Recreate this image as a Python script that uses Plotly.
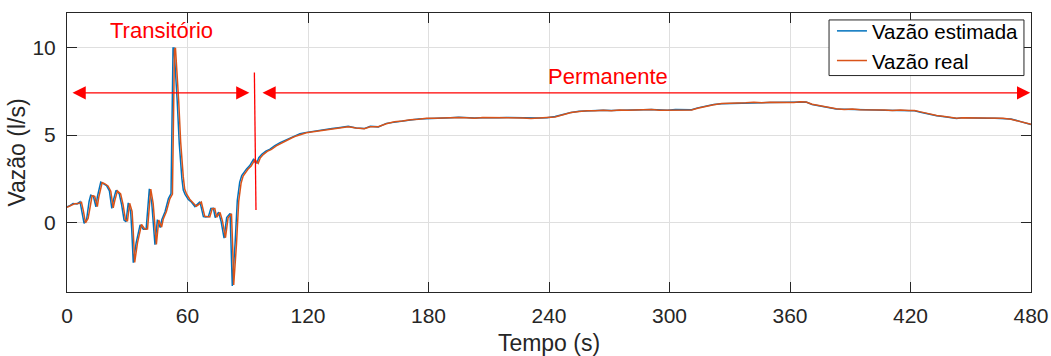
import plotly.graph_objects as go

# ---------------- data ----------------
t_est_tr = [0, 1.5, 3, 5, 6.5, 7.5, 8.5, 9.8, 11, 11.8, 13.1, 14.4, 15.1, 16.8, 18, 19.7, 21.1, 22.3, 23.1, 24.4,
            26, 27.2, 28.4, 29.4, 30.5, 31.7, 32.2, 33, 34.4, 36.4, 38, 39.4, 41, 42.2, 43.8, 45, 46.4, 47.2, 48.8, 50.5,
            51.8, 52.3, 52.8, 53.3, 54, 54.9, 55.9, 56.5, 57.2, 57.9, 58.8, 60.4, 62, 63.7, 65, 66.2, 67.9, 69, 70.4, 71.6,
            72.9, 73.8, 75.5, 76.7, 78.2, 79.5, 81.2, 81.8, 82.3, 83.7, 84.8, 86, 87, 89.4, 91, 92.8, 93.6, 94.5, 95.5, 97,
            99, 101.1, 103.5, 106.1, 108.5, 111.1, 113.5, 116, 118.5, 121]
v_est_tr = [0.88, 0.95, 1.08, 1.05, 1.17, 0.6, -0.06, 0.2, 1.2, 1.55, 1.5, 0.88, 1.45, 2.3, 2.2, 2.1, 1.8, 0.8, 1.26, 1.83,
            1.64, 1.0, 0.13, 0.04, 1.11, 0.6, -0.35, -2.32, -1.2, -0.15, -0.4, -0.4, 1.92, 1.1, -1.29, 0.15, -0.3, 0.15, 0.6, 1.36,
            1.64, 5.5, 10.0, 10.0, 8.8, 6.9, 4.5, 3.4, 2.5, 1.85, 1.6, 1.3, 1.15, 0.9, 1.05, 1.17, 0.32, 0.3, 0.32, 0.79,
            0.8, 0.27, 0.58, 0.06, -0.91, 0.27, 0.51, -1.5, -3.65, -1.2, 1.26, 2.3, 2.68, 3.06, 3.25, 3.6, 3.45, 3.4, 3.7, 3.9,
            4.08, 4.19, 4.4, 4.57, 4.7, 4.85, 4.96, 5.08, 5.14, 5.19]

t_real_tr = [0, 2.2, 3.7, 5.7, 7.2, 8.2, 9.2, 10.5, 11.7, 12.5, 13.8, 15.1, 15.8, 17.5, 18.7, 20.4, 21.8, 23.0, 23.8, 25.1,
             26.7, 27.9, 29.1, 30.1, 31.2, 32.4, 32.9, 33.7, 35.1, 37.1, 38.7, 40.1, 41.7, 42.9, 44.5, 45.7, 47.1, 47.9, 49.5, 51.2,
             52.5, 53.0, 53.5, 54.0, 54.7, 55.6, 56.6, 57.2, 57.9, 58.6, 59.5, 61.1, 62.7, 64.4, 65.7, 66.9, 68.6, 69.7, 71.1, 72.3,
             73.6, 74.5, 76.2, 77.4, 78.9, 80.2, 81.9, 82.5, 83.0, 84.4, 85.5, 86.7, 87.7, 90.1, 91.7, 93.5, 94.3, 95.2, 96.2, 97.7,
             99.7, 101.8, 104.2, 106.8, 109.2, 111.8, 114.2, 116.7, 119.2, 121.7]
v_real_tr = [0.85, 0.97, 1.06, 1.07, 1.15, 0.62, -0.04, 0.22, 1.18, 1.52, 1.48, 0.9, 1.43, 2.28, 2.22, 2.08, 1.78, 0.82, 1.24, 1.8,
             1.62, 1.02, 0.15, 0.06, 1.09, 0.62, -0.33, -2.3, -1.18, -0.13, -0.38, -0.38, 1.9, 1.08, -1.27, 0.13, -0.28, 0.17, 0.62, 1.34,
             1.62, 5.3, 9.9, 10.0, 8.9, 7.0, 4.6, 3.5, 2.6, 1.9, 1.62, 1.32, 1.13, 0.92, 1.03, 1.15, 0.34, 0.32, 0.3, 0.77,
             0.78, 0.29, 0.56, 0.08, -0.89, 0.25, 0.49, -1.4, -3.6, -1.25, 1.2, 2.25, 2.65, 3.04, 3.23, 3.58, 3.47, 3.38, 3.68, 3.88,
             4.06, 4.18, 4.38, 4.55, 4.68, 4.83, 4.95, 5.06, 5.13, 5.18]

t_steady = [124, 128, 132, 136, 140, 144, 148, 151, 155, 159, 163, 167, 171, 175, 179, 183, 187, 191, 195, 199,
            203, 207, 211, 215, 219, 223, 227, 231, 235, 239, 243, 247, 251, 255, 259, 263, 267, 271, 275, 279,
            283, 287, 291, 295, 299, 303, 307, 311, 314, 318, 322, 326, 330, 334, 338, 342, 346, 350, 354, 358,
            362, 365, 368, 371, 375, 379, 383, 387, 391, 395, 399, 403, 407, 411, 415, 419, 422, 425, 429, 433,
            437, 441, 443, 446, 450, 454, 458, 462, 466, 470, 474, 477, 480]
v_est_steady = [5.24, 5.30, 5.38, 5.44, 5.50, 5.40, 5.37, 5.50, 5.47, 5.67,
                5.75, 5.82, 5.87, 5.92, 5.95, 5.97, 5.98, 6.00, 6.02, 5.99,
                5.98, 6.00, 6.02, 6.00, 6.01, 6.00, 5.97, 5.96, 5.98, 6.00,
                6.06, 6.18, 6.30, 6.36, 6.39, 6.40, 6.42, 6.41, 6.43, 6.44,
                6.43, 6.45, 6.46, 6.43, 6.42, 6.46, 6.45, 6.45, 6.56, 6.66,
                6.75, 6.80, 6.82, 6.83, 6.86, 6.87, 6.86, 6.87, 6.88, 6.87,
                6.88, 6.92, 6.89, 6.75, 6.66, 6.58, 6.50, 6.48, 6.48, 6.46,
                6.45, 6.44, 6.43, 6.42, 6.43, 6.42, 6.40, 6.31, 6.20, 6.11,
                6.05, 5.98, 5.95, 6.00, 5.98, 5.98, 5.97, 5.97, 5.96, 5.92,
                5.80, 5.70, 5.60]
v_real_steady = [5.22, 5.31, 5.36, 5.45, 5.48, 5.41, 5.36, 5.48, 5.48, 5.65,
                 5.76, 5.80, 5.88, 5.91, 5.96, 5.96, 5.99, 5.99, 6.01, 6.00,
                 5.97, 6.01, 6.01, 5.99, 6.02, 5.99, 5.98, 5.95, 5.99, 5.99,
                 6.04, 6.16, 6.29, 6.35, 6.40, 6.39, 6.43, 6.40, 6.44, 6.43,
                 6.44, 6.44, 6.47, 6.42, 6.43, 6.45, 6.46, 6.44, 6.54, 6.65,
                 6.74, 6.81, 6.81, 6.84, 6.85, 6.88, 6.85, 6.88, 6.87, 6.88,
                 6.87, 6.91, 6.90, 6.77, 6.67, 6.59, 6.51, 6.47, 6.49, 6.45,
                 6.46, 6.43, 6.44, 6.41, 6.44, 6.41, 6.41, 6.33, 6.21, 6.12,
                 6.06, 5.99, 5.96, 5.99, 5.99, 5.97, 5.98, 5.96, 5.97, 5.91,
                 5.81, 5.71, 5.62]

x_ticks = [0, 60, 120, 180, 240, 300, 360, 420, 480]
y_ticks = [0, 5, 10]
series_names = ["Vazão estimada", "Vazão real"]
label_transient = "Transitório"
label_steady = "Permanente"

# ---------------- figure ----------------
FONT = "Liberation Sans, Arial, Helvetica, sans-serif"
AXC = "#262626"
RED = "#ff0000"

fig = go.Figure()
fig.add_trace(go.Scatter(x=t_est_tr + t_steady, y=v_est_tr + v_est_steady, mode="lines",
                         name=series_names[0], line=dict(color="#0072BD", width=1.5)))
fig.add_trace(go.Scatter(x=t_real_tr + t_steady, y=v_real_tr + v_real_steady, mode="lines",
                         name=series_names[1], line=dict(color="#D95319", width=1.5)))

axis_common = dict(showline=True, linecolor=AXC, linewidth=1, mirror="ticks",
                   ticks="inside", ticklen=10, tickcolor=AXC, tickwidth=1,
                   showgrid=True, gridcolor="#dfdfdf", gridwidth=1, zeroline=False,
                   automargin=False,
                   tickfont=dict(family=FONT, size=21, color=AXC))

fig.update_layout(
    width=1051, height=356,
    margin=dict(l=67, r=20, t=11, b=64),
    paper_bgcolor="white", plot_bgcolor="white",
    font=dict(family=FONT, size=20, color=AXC),
    xaxis=dict(range=[0, 480], tickvals=x_ticks, ticklabelstandoff=5,
               title=dict(text="Tempo (s)", font=dict(family=FONT, size=23, color=AXC), standoff=9),
               **axis_common),
    yaxis=dict(range=[-4, 12], tickvals=y_ticks, ticklabelstandoff=6,
               title=dict(text="Vazão (l/s)", font=dict(family=FONT, size=23, color=AXC), standoff=0),
               **axis_common),
    legend=dict(x=0.9927, y=1.007, xanchor="right", yanchor="top",
                bgcolor="rgba(0,0,0,0)", borderwidth=0,
                font=dict(family=FONT, size=20.5, color="#000000"),
                itemwidth=30, tracegroupgap=0),
    showlegend=True,
)

# legend frame (white box with dark border, like the reference)
fig.add_shape(type="rect", xref="paper", yref="paper",
              x0=0.7905, x1=0.9927, y0=0.7758, y1=0.9751,
              line=dict(color=AXC, width=1), fillcolor="white", layer="above")

# text labels
fig.add_annotation(x=47.2, y=11.0, text=label_transient, showarrow=False,
                   font=dict(family=FONT, size=22, color=RED), xref="x", yref="y")
fig.add_annotation(x=269.4, y=8.35, text=label_steady, showarrow=False,
                   font=dict(family=FONT, size=22, color=RED), xref="x", yref="y")

# double arrows
for (x0, x1) in [(2.0, 90.8), (96.6, 479.6)]:
    fig.add_annotation(x=x1, y=7.42, ax=x0, ay=7.42, xref="x", yref="y", axref="x", ayref="y",
                       text="", showarrow=True, arrowside="end+start", arrowhead=2, startarrowhead=2,
                       arrowsize=2.2, startarrowsize=2.2, arrowwidth=1.2, arrowcolor=RED,
                       standoff=0, startstandoff=0)

# separator line
fig.add_shape(type="line", x0=93.3, y0=8.59, x1=94.1, y1=0.70, xref="x", yref="y",
              line=dict(color=RED, width=1.3))

fig.write_html("out.html")
